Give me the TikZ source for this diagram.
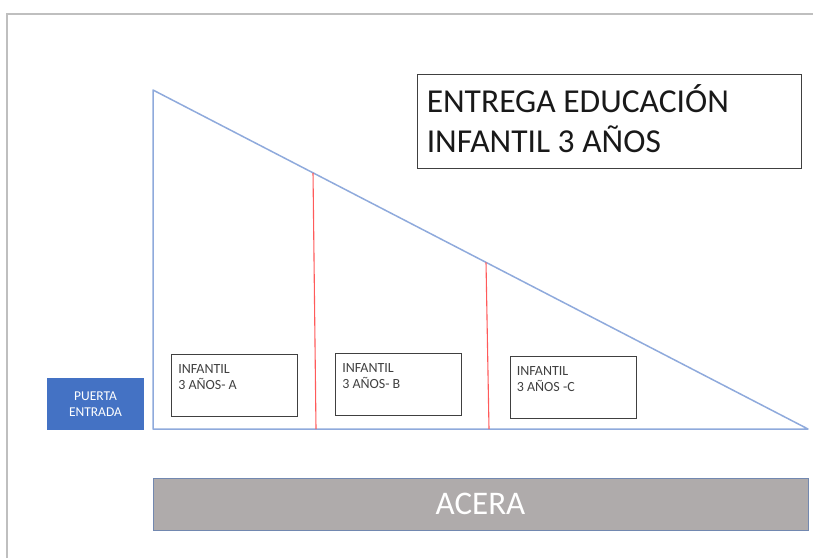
\documentclass[tikz,border=0pt]{standalone}
\usepackage{fontspec}
\setmainfont{Carlito}
\usetikzlibrary{calc}
\definecolor{lineblue}{RGB}{143,170,220}
\definecolor{doorblue}{RGB}{68,114,196}
\definecolor{aceragray}{RGB}{175,171,171}
\definecolor{redline}{RGB}{255,90,90}
\begin{document}
\begin{tikzpicture}[x=1pt, y=-1pt,
    aula/.style={draw=black!75, line width=0.9pt, minimum width=126pt, minimum height=62pt, inner sep=0pt},
    aulatext/.style={anchor=north west, align=left, inner sep=0pt, font=\fontsize{14}{16}\selectfont, text=black!75}]
    \useasboundingbox (0,0) rectangle (813,558);
    \draw[black!25, line width=1.5pt] (7,558) -- (7,14) -- (813,14); % page edge
    % patio
    \coordinate (top) at (153,90);
    \coordinate (left) at (153,429);
    \coordinate (right) at (808,429);
    \draw[lineblue, line width=1.5pt, line join=round] (top) -- (left) -- (right) -- cycle;
    \coordinate (cutA) at ($(top)!0.2443!(right)$);
    \coordinate (cutB) at ($(top)!0.5084!(right)$);
    \coordinate (footA) at (316,429);
    \coordinate (footB) at (489,429);
    \draw[redline, line width=1.1pt] (cutA) -- (footA);
    \draw[redline, line width=1.1pt] (cutB) -- (footB);
    \foreach \name/\x/\y/\txt in {a/234.5/385/{3 AÑOS- A}, b/398.5/384.5/{3 AÑOS- B}, c/573/387.5/{3 AÑOS -C}}{
        \node[aula] (\name) at (\x,\y) {};
        \node[aulatext] (\name txt) at ($(\name.north west)+(7,10.5)$) {INFANTIL\\\txt};
    }
    \node[fill=doorblue, minimum width=97pt, minimum height=52pt, align=center, text=white,
        font=\fontsize{13.5}{16}\selectfont, inner sep=0pt] (door) at (95.5,404) {PUERTA\\ENTRADA};
    \node[fill=aceragray, draw=lineblue!80!black, line width=0.8pt, minimum width=655pt, minimum height=52pt,
        text=white, font=\fontsize{33}{38}\selectfont, inner sep=0pt] (acera) at (480.5,504) {\raisebox{-1.5pt}{ACERA}};
    \node[draw=black!75, line width=0.9pt, minimum width=384pt, minimum height=94pt, inner sep=0pt] (title) at (609,121) {};
    \node[anchor=west, align=left, inner sep=0pt, font=\fontsize{33.5}{40}\selectfont, text=black!90] (titletxt)
        at ($(title.west)+(10,-2.5)$) {ENTREGA EDUCACIÓN\\INFANTIL 3 AÑOS};
\end{tikzpicture}
\end{document}
